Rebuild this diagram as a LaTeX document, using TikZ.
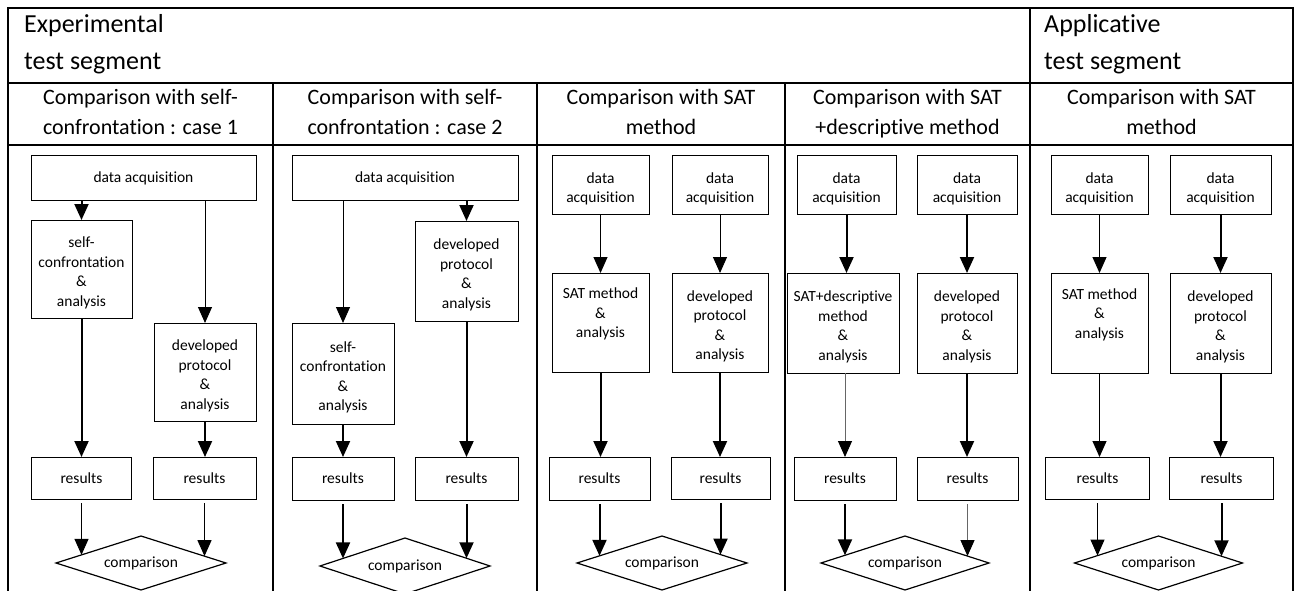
\documentclass[tikz,border=0pt]{standalone}
\usepackage{fontspec}
\setmainfont{Carlito}[Ligatures=NoCommon]
\usetikzlibrary{arrows.meta,shapes.geometric,calc}

% arrow from a results box down to the slanted upper edge of a comparison diamond
\newcommand{\cmparrow}[4]{%
  \draw[#1, shorten <=4pt] let \p1=(#2.south), \p2=(#3.#4), \p3=(#3.north) in
    (\p1) -- (\x1,{\y2+(\x1-\x2)/(\x3-\x2)*(\y3-\y2)});}
% invisible strut on a first line: sets the text block a little lower in its box
\newcommand{\lowtop}{\rule{0pt}{18.5pt}}

\tikzset{
  frame/.style={line width=2pt},
  bx/.style={draw, line width=1pt, align=center, inner sep=0pt, outer sep=0pt,
             font=\fontsize{15.5}{19.5}\selectfont},
  dec/.style={draw, diamond, aspect=3.15, line width=1.2pt, inner sep=0pt, outer sep=0pt,
             minimum width=170pt, minimum height=54pt, font=\fontsize{15.5}{19.5}\selectfont},
  tip/.style={-{Triangle[width=14pt,length=16pt,color=black]}},
  thk/.style={tip, line width=2pt},
  thn/.style={tip, line width=1pt},
  gry/.style={tip, line width=1pt, draw=black!60},
  head/.style={font=\fontsize{26}{37}\selectfont, align=left, inner sep=0pt, anchor=north west},
  sub/.style={font=\fontsize{22}{30}\selectfont, align=center, inner sep=0pt},
}

\begin{document}
\begin{tikzpicture}[x=1pt,y=-1pt]
\useasboundingbox (0,0) rectangle (1296,591);
\clip (0,0) rectangle (1296,591);
\fill[white] (0,0) rectangle (1296,591);

% table frame
\draw[frame] (8,600) -- (8,8) -- (1293,8) -- (1293,600);
\draw[frame] (8,83.5) -- (1293,83.5);
\draw[frame] (8,145) -- (1293,145);
\draw[frame] (1030,8) -- (1030,600);
\foreach \x in {273,537,785} \draw[frame] (\x,83.5) -- (\x,600);

% segment headings
\node[head] (hexp) at (24,14) {Experimental\\test segment};
\node[head] (happ) at (1044,14) {Applicative\\test segment};

% column headings
\node[sub] (s1) at (140.5,112) {Comparison with self-\\confrontation : case 1};
\node[sub] (s2) at (405,112) {Comparison with self-\\confrontation : case 2};
\node[sub] (s3) at (661,112) {Comparison with SAT\\method};
\node[sub] (s4) at (907.5,114) {Comparison with SAT\\+descriptive method};
\node[sub] (s5) at (1161.5,112) {Comparison with SAT\\method};

% ---- column 1
\node[bx, minimum width=225pt, minimum height=44pt] (da1) at (143.5,178) {data acquisition};
\node[bx, minimum width=101pt, minimum height=98pt] (sc1) at (81.5,269) {\lowtop self-\\confrontation\\\&\\analysis};
\node[bx, minimum width=102pt, minimum height=98pt] (dp1) at (205,372) {\lowtop developed\\protocol\\\&\\analysis};
\node[bx, minimum width=100pt, minimum height=42pt] (rl1) at (81.5,478) {results};
\node[bx, minimum width=103pt, minimum height=42pt] (rr1) at (204.5,478) {results};
\node[dec] (cp1) at (141,563) {comparison};
\draw[thk] (da1.south -| sc1.north) -- (sc1.north);
\draw[thn] (da1.south -| dp1.north) -- (dp1.north);
\draw[thk] (sc1.south) -- (sc1.south |- rl1.north);
\draw[thk] (dp1.south) -- (dp1.south |- rr1.north);
\cmparrow{thn}{rl1}{cp1}{west}
\cmparrow{thn}{rr1}{cp1}{east}

% ---- column 2
\node[bx, minimum width=226pt, minimum height=44pt] (da2) at (405,178) {data acquisition};
\node[bx, minimum width=103pt, minimum height=100pt] (dp2) at (466.5,271) {\lowtop developed\\protocol\\\&\\analysis};
\node[bx, minimum width=102pt, minimum height=101pt] (sc2) at (343,373.5) {\lowtop self-\\confrontation\\\&\\analysis};
\node[bx, minimum width=102pt, minimum height=43pt] (rl2) at (343,478.5) {results};
\node[bx, minimum width=103pt, minimum height=43pt] (rr2) at (466.5,478.5) {results};
\node[dec, minimum height=56pt] (cp2) at (405,566) {comparison};
\draw[thn] (da2.south -| sc2.north) -- (sc2.north);
\draw[thk] (da2.south -| dp2.north) -- (dp2.north);
\draw[thk] (sc2.south) -- (sc2.south |- rl2.north);
\draw[thk] (dp2.south) -- (dp2.south |- rr2.north);
\cmparrow{thk}{rl2}{cp2}{west}
\cmparrow{thk}{rr2}{cp2}{east}

% ---- column 3
\node[bx, minimum width=97pt, minimum height=58pt] (dl3) at (600.5,185) {\lowtop data\\acquisition};
\node[bx, minimum width=96pt, minimum height=58pt] (dr3) at (720,185) {\lowtop data\\acquisition};
\node[bx, minimum width=97pt, minimum height=99pt] (ml3) at (600.5,322.5) {SAT method\\\&\\analysis\\~};
\node[bx, minimum width=96pt, minimum height=99pt] (mr3) at (720,322.5) {\lowtop developed\\protocol\\\&\\analysis};
\node[bx, minimum width=101pt, minimum height=43pt] (rl3) at (599.5,478.5) {results};
\node[bx, minimum width=99pt, minimum height=42pt] (rr3) at (720.5,478) {results};
\node[dec] (cp3) at (662,563) {comparison};
\draw[thn] (dl3.south) -- (ml3.north);
\draw[thn] (dr3.south) -- (mr3.north);
\draw[thk] (ml3.south) -- (ml3.south |- rl3.north);
\draw[thk] (mr3.south) -- (mr3.south |- rr3.north);
\cmparrow{thk}{rl3}{cp3}{west}
\cmparrow{thk}{rr3}{cp3}{east}

% ---- column 4
\node[bx, minimum width=99pt, minimum height=58pt] (dl4) at (846.5,185) {\lowtop data\\acquisition};
\node[bx, minimum width=100pt, minimum height=58pt] (dr4) at (967,185) {\lowtop data\\acquisition};
\node[bx, minimum width=112pt, minimum height=100pt] (ml4) at (843,323) {\lowtop SAT+descriptive\\method\\\&\\analysis};
\node[bx, minimum width=100pt, minimum height=100pt] (mr4) at (967,323) {\lowtop developed\\protocol\\\&\\analysis};
\node[bx, minimum width=102pt, minimum height=43pt] (rl4) at (845,478.5) {results};
\node[bx, minimum width=101pt, minimum height=43pt] (rr4) at (967.5,478.5) {results};
\node[dec, minimum width=168pt] (cp4) at (905,563) {comparison};
\draw[thk] (dl4.south) -- (dl4.south |- ml4.north);
\draw[thk] (dr4.south) -- (mr4.north);
\draw[gry] (rl4.north |- ml4.south) -- (rl4.north);
\draw[thk] (mr4.south) -- (mr4.south |- rr4.north);
\cmparrow{thk}{rl4}{cp4}{west}
\cmparrow{gry}{rr4}{cp4}{east}

% ---- column 5
\node[bx, minimum width=97pt, minimum height=58pt] (dl5) at (1099.5,185) {\lowtop data\\acquisition};
\node[bx, minimum width=101pt, minimum height=58pt] (dr5) at (1220.5,185) {\lowtop data\\acquisition};
\node[bx, minimum width=97pt, minimum height=100pt] (ml5) at (1099.5,323) {SAT method\\\&\\analysis\\~};
\node[bx, minimum width=101pt, minimum height=100pt] (mr5) at (1220.5,323) {\lowtop developed\\protocol\\\&\\analysis};
\node[bx, minimum width=104pt, minimum height=42pt] (rl5) at (1097.5,478) {results};
\node[bx, minimum width=104pt, minimum height=42pt] (rr5) at (1221.5,478) {results};
\node[dec, minimum width=168pt] (cp5) at (1158.5,563) {comparison};
\draw[thn] (dl5.south) -- (ml5.north);
\draw[thk] (dr5.south) -- (mr5.north);
\draw[thn] (ml5.south) -- (ml5.south |- rl5.north);
\draw[thk] (mr5.south) -- (mr5.south |- rr5.north);
\cmparrow{thn}{rl5}{cp5}{west}
\cmparrow{thk}{rr5}{cp5}{east}
\end{tikzpicture}
\end{document}
